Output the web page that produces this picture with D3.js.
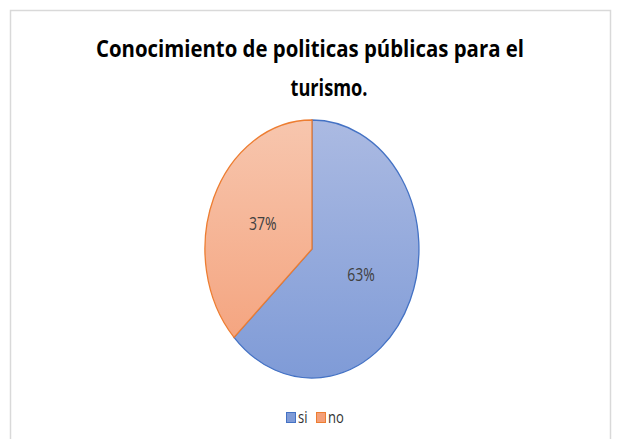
<!DOCTYPE html>
<html><head><meta charset="utf-8">
<script src="https://cdn.jsdelivr.net/npm/d3@7"></script>
<style>html,body{margin:0;padding:0;background:#fff}svg{display:block}</style>
</head><body>
<script>
const categories = ["si", "no"];
const values = [63, 37];
const labels = ["63%", "37%"];
const titleLines = ["Conocimiento de politicas públicas para el", "turismo."];

const W = 619, H = 439;
const svg = d3.select("body").append("svg").attr("width", W).attr("height", H);
svg.append("rect").attr("x", 10.5).attr("y", 10.5).attr("width", 600).attr("height", 440)
  .attr("fill", "#fff").attr("stroke", "#d9d9d9").attr("stroke-width", 1.5);

const fills = {si: ["#abbae2", "#7f9bd7"], no: ["#f7c6ae", "#f49f78"]};
const strokes = {si: "#4472c4", no: "#ed7d31"};
const defs = svg.append("defs");
categories.forEach(c => {
  const g = defs.append("linearGradient").attr("id", "g-" + c)
    .attr("gradientUnits", "userSpaceOnUse").attr("x1", 0).attr("y1", -1).attr("x2", 0).attr("y2", 1);
  g.append("stop").attr("offset", "0%").attr("stop-color", fills[c][0]);
  g.append("stop").attr("offset", "100%").attr("stop-color", fills[c][1]);
});

const SY = 1.2;
const title = svg.append("text").attr("text-anchor", "middle")
  .attr("transform", `translate(0,0) scale(1,${SY})`)
  .attr("font-family", "'Open Sans', sans-serif").attr("font-weight", "bold").attr("font-size", 19).attr("fill", "#000");
title.append("tspan").attr("x", 310).attr("y", 57 / SY).attr("textLength", 428).attr("lengthAdjust", "spacingAndGlyphs").text(titleLines[0]);
title.append("tspan").attr("x", 329).attr("y", 96 / SY).attr("textLength", 77).attr("lengthAdjust", "spacingAndGlyphs").text(titleLines[1]);

const cx = 312, cy = 249, rx = 107, ry = 129;
const pie = d3.pie().sort(null).value(d => d.v);
const data = pie(categories.map((c, i) => ({c, v: values[i], l: labels[i]})));
const arc = d3.arc().innerRadius(0).outerRadius(1);
const pg = svg.append("g").attr("transform", `translate(${cx},${cy}) scale(${rx},${ry})`);
pg.selectAll("path").data(data).join("path")
  .attr("d", arc)
  .attr("fill", d => `url(#g-${d.data.c})`)
  .attr("stroke", d => strokes[d.data.c])
  .attr("stroke-width", 1.3)
  .attr("vector-effect", "non-scaling-stroke");

svg.append("g").selectAll("text").data(data).join("text")
  .attr("transform", d => `translate(${cx + arc.centroid(d)[0] * rx},${cy + arc.centroid(d)[1] * ry}) scale(1,1.25)`)
  .attr("dy", "0.35em").attr("text-anchor", "middle")
  .attr("font-family", "'Open Sans', sans-serif").attr("font-size", 14).attr("fill", "#404040")
  .text(d => d.data.l);

const legX = [286, 316];
const leg = svg.append("g");
categories.forEach((c, i) => {
  leg.append("rect").attr("x", legX[i] + 0.5).attr("y", 412.5).attr("width", 9).attr("height", 10)
    .attr("fill", fills[c][1]).attr("stroke", strokes[c]).attr("stroke-width", 1);
  leg.append("text").attr("transform", `translate(${legX[i] + 12},423) scale(1,1.2)`)
    .attr("font-family", "'Open Sans', sans-serif").attr("font-size", 13).attr("fill", "#333").text(c);
});
</script>
</body></html>
